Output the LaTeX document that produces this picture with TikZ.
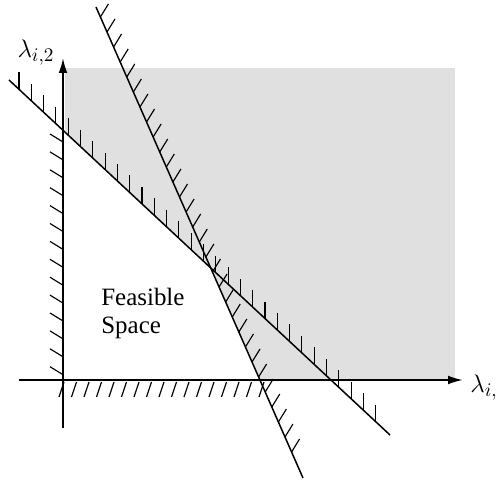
\documentclass[tikz,border=0pt]{standalone}
\usepackage{fontspec}
\setmainfont{Liberation Serif}
\usetikzlibrary{calc, arrows.meta}

\tikzset{
  axis/.style={line width=1.1pt},
  bound/.style={line width=0.85pt},
  hatch/.style={line width=0.65pt},
  lbl/.style={inner sep=0pt, font=\fontsize{15.5}{18}\selectfont}
}

\begin{document}
\begin{tikzpicture}[x=0.02cm, y=-0.02cm, >=latex]
    \useasboundingbox (0,0) rectangle (498,489);
    % axes end points
    \coordinate (o) at (63,380);
    \coordinate (xs) at (19,380);
    \coordinate (xe) at (463,380);
    \coordinate (ys) at (63,428);
    \coordinate (ye) at (63,58);
    % constraint lines
    \coordinate (l1a) at (9,80);
    \coordinate (l1b) at (390,435);
    \coordinate (l2a) at (96,7);
    \coordinate (l2b) at (303,478);
    \coordinate (p) at (intersection of l1a--l1b and l2a--l2b);
    \coordinate (py) at (intersection of l1a--l1b and ys--ye);
    \coordinate (px) at (intersection of l2a--l2b and xs--xe);

    % infeasible part shaded
    \fill[black!12] (65,68) rectangle (455,380);
    \fill[white] (o) -- (py) -- (p) -- (px) -- cycle;

    % hatching
    \foreach \k [evaluate=\k as \t using (10+12.3*\k)/381] in {0,...,29}
        \draw[hatch] ($(l1a)!\t!(l1b)$) -- ++(0,-17);
    \foreach \k [evaluate=\k as \t using (10+15*\k)/471] in {0,...,29}
        \draw[hatch] ($(l2a)!\t!(l2b)$) -- ++(8,-13);
    \foreach \k in {0,...,13}
        \draw[hatch] ($(o)+(0,-238+17.9*\k)$) -- ++(-13,-8);
    \foreach \k in {0,...,16}
        \draw[hatch] ($(o)+(1+12.5*\k,2)$) -- ++(-5,15);

    \draw[bound] (l1a) -- (l1b);
    \draw[bound] (l2a) -- (l2b);

    \draw[axis, -{Latex[length=8.5pt, width=5pt]}] (xs) -- (xe);
    \draw[axis, -{Latex[length=8.5pt, width=5pt]}] (ys) -- (ye);

    \node[lbl] (ylab) at (36,53) {$\lambda_{i,2}$};
    \node[lbl] (xlab) at (484,388) {$\lambda_{i,}$};
    \node[lbl, align=left, anchor=north west, font=\fontsize{14.2}{16}\selectfont] (feas) at (101,288) {Feasible\\Space};
\end{tikzpicture}
\end{document}
